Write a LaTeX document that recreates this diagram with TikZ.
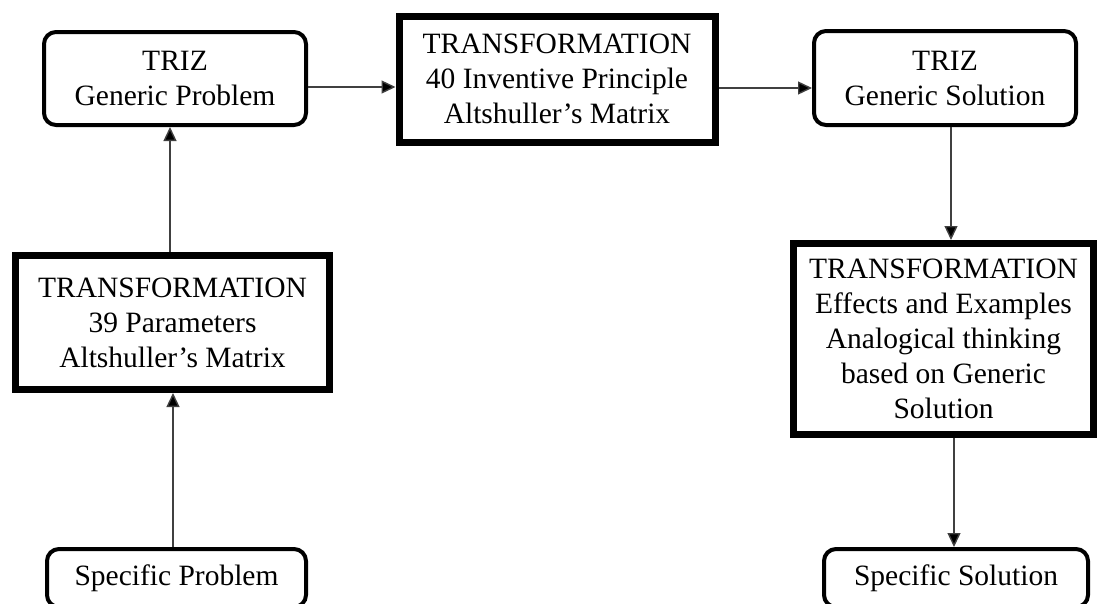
\documentclass[tikz,border=0pt]{standalone}
\usepackage{fontspec}
\setmainfont{Liberation Serif}
\usetikzlibrary{arrows.meta}
\begin{document}
\begin{tikzpicture}[x=1pt,y=-1pt,
  every node/.style={font=\fontsize{29.5}{35}\selectfont, align=center, inner sep=0pt},
  trizbox/.style={draw=black, line width=4pt, rounded corners=12pt, fill=white},
  transbox/.style={draw=black, line width=7pt, fill=white},
  flow/.style={draw=black!75, line width=1.4pt, -{Triangle[length=14pt,width=13pt,fill=black]}}
]
\useasboundingbox (0,0) rectangle (1097,603);

% generic level (top row)
\node[trizbox, minimum width=262pt, minimum height=93pt] (gp) at (175,78.5)
  {TRIZ\\Generic Problem};
\node[transbox, minimum width=316pt, minimum height=126pt] (tp) at (557,79)
  {TRANSFORMATION\\40 Inventive Principle\\Altshuller's Matrix};
\node[trizbox, minimum width=262pt, minimum height=94pt] (gs) at (945,78)
  {TRIZ\\Generic Solution};

% transformations between levels
\node[transbox, minimum width=314pt, minimum height=134pt] (tparam) at (172.5,322.5)
  {TRANSFORMATION\\39 Parameters\\Altshuller's Matrix};
\node[transbox, minimum width=300pt, minimum height=191pt] (teff) at (943.5,339)
  {TRANSFORMATION\\Effects and Examples\\Analogical thinking\\based on Generic\\Solution};

% specific level (bottom row)
\node[trizbox, minimum width=259pt, minimum height=58pt] (sp) at (176.5,578)
  {Specific Problem};
\node[trizbox, minimum width=264pt, minimum height=58pt] (ss) at (956,578)
  {Specific Solution};

% connectors
\draw[flow] ([xshift=-3.5pt]sp.north) -- ([xshift=-3.5pt]sp.north |- tparam.south);
\draw[flow] ([xshift=-2.5pt]tparam.north) -- ([xshift=-2.5pt]tparam.north |- gp.south);
\draw[flow] ([yshift=-8.5pt]gp.east) -- ([yshift=-8.5pt]gp.east -| tp.west);
\draw[flow] ([yshift=-9pt]tp.east) -- ([yshift=-9pt]tp.east -| gs.west);
\draw[flow] ([xshift=6pt]gs.south) -- ([xshift=6pt]gs.south |- teff.north);
\draw[flow] ([xshift=10.5pt]teff.south) -- ([xshift=10.5pt]teff.south |- ss.north);
\end{tikzpicture}
\end{document}
